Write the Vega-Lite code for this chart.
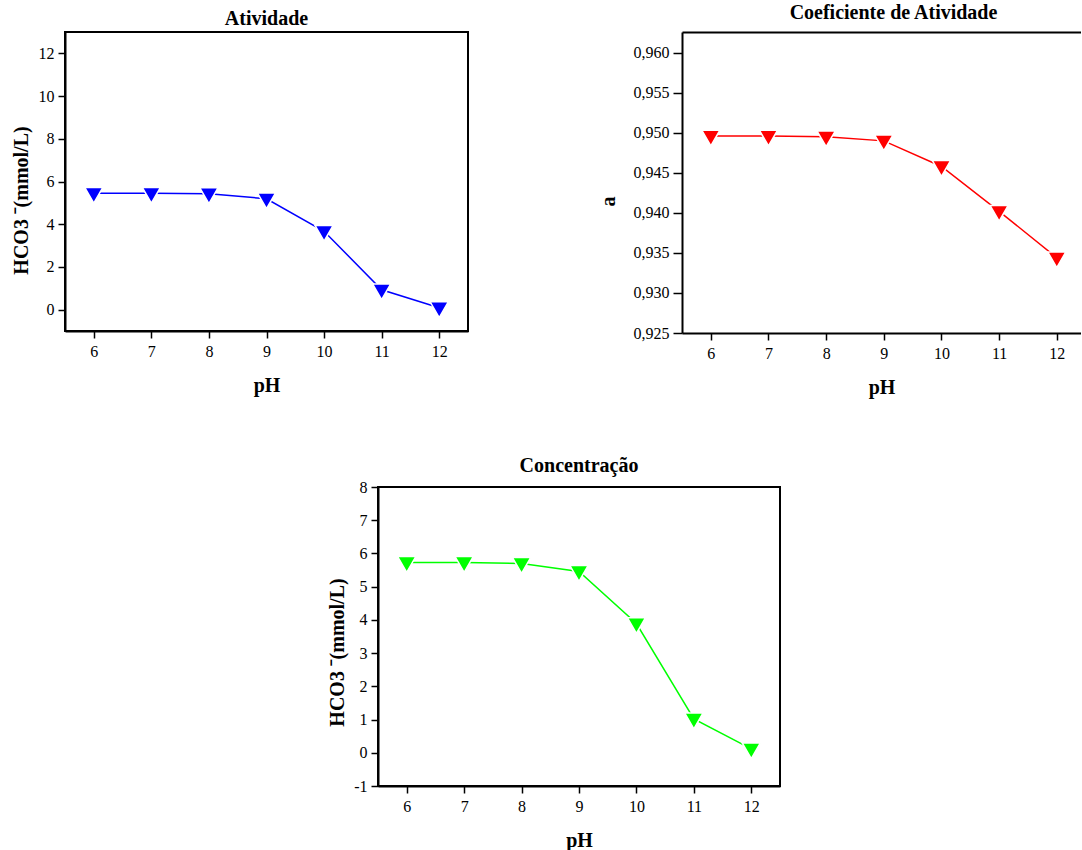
{
  "$schema": "https://vega.github.io/schema/vega-lite/v6.json",
  "padding": {"left": 10, "top": 3, "right": 0, "bottom": 0},
  "background": "white",
  "datasets": {
    "d": [
      {"pH": 6, "atividade": 5.45, "coef": 0.9496, "conc": 5.73},
      {"pH": 7, "atividade": 5.45, "coef": 0.9496, "conc": 5.73},
      {"pH": 8, "atividade": 5.43, "coef": 0.9495, "conc": 5.70},
      {"pH": 9, "atividade": 5.19, "coef": 0.9490, "conc": 5.46},
      {"pH": 10, "atividade": 3.67, "coef": 0.9458, "conc": 3.89},
      {"pH": 11, "atividade": 0.93, "coef": 0.9402, "conc": 1.02},
      {"pH": 12, "atividade": 0.09, "coef": 0.9344, "conc": 0.12}
    ]
  },
  "config": {
    "font": "Liberation Serif",
    "view": {"stroke": "black", "strokeWidth": 2},
    "axis": {
      "grid": false,
      "domainColor": "black",
      "domainWidth": 2,
      "tickColor": "black",
      "tickWidth": 1.5,
      "tickSize": 7,
      "labelFont": "Liberation Serif",
      "labelFontSize": 16,
      "labelColor": "black",
      "labelPadding": 4,
      "titleFont": "Liberation Serif",
      "titleFontSize": 20,
      "titleFontWeight": "bold",
      "titleColor": "black"
    },
    "axisX": {"titlePadding": 16, "labelPadding": 5},
    "axisY": {"titlePadding": 6},
    "title": {"font": "Liberation Serif", "fontSize": 20, "fontWeight": "bold", "color": "black", "anchor": "middle"}
  },
  "spacing": 455,
  "bounds": "flush",
  "vconcat": [
    {
      "spacing": 214,
      "bounds": "flush",
      "hconcat": [
        {
          "width": 403,
          "height": 299,
          "title": {"text": "Atividade", "offset": 3},
          "data": {"name": "d"},
          "encoding": {
            "x": {"field": "pH", "type": "quantitative", "scale": {"domain": [5.5, 12.5], "nice": false, "zero": false}, "axis": {"values": [6, 7, 8, 9, 10, 11, 12], "title": "pH"}},
            "y": {"field": "atividade", "type": "quantitative", "scale": {"domain": [-1, 13], "nice": false, "zero": false}, "axis": {"values": [0, 2, 4, 6, 8, 10, 12], "title": "HCO3  ˉ(mmol/L)", "titlePadding": 7, "titleY": 168}}
          },
          "layer": [
            {"mark": {"type": "line", "color": "#0000ff", "strokeWidth": 1.5}},
            {"mark": {"type": "point", "shape": "triangle-down", "filled": true, "fill": "#0000ff", "stroke": "white", "strokeWidth": 1.5, "size": 330, "yOffset": 2, "opacity": 1, "fillOpacity": 1}}
          ]
        },
        {
          "width": 399,
          "height": 301,
          "view": {"stroke": null},
          "title": {"text": "Coeficiente de Atividade", "offset": 9, "dx": 12},
          "data": {"name": "d"},
          "encoding": {
            "x": {"field": "pH", "type": "quantitative", "scale": {"domain": [5.5, 12.42], "nice": false, "zero": false}, "axis": {"values": [6, 7, 8, 9, 10, 11, 12], "title": "pH"}},
            "y": {"field": "coef", "type": "quantitative", "scale": {"domain": [0.925, 0.9626], "nice": false, "zero": false}, "axis": {"values": [0.925, 0.93, 0.935, 0.94, 0.945, 0.95, 0.955, 0.96], "labelExpr": "replace(format(datum.value, '.3f'), '.', ',')", "title": "a", "tickSize": 9, "titlePadding": 15, "titleY": 169}}
          },
          "resolve": {"axis": {"x": "independent"}},
          "layer": [
            {"mark": {"type": "line", "color": "#ff0000", "strokeWidth": 1.5}},
            {"mark": {"type": "point", "shape": "triangle-down", "filled": true, "fill": "#ff0000", "stroke": "white", "strokeWidth": 1.5, "size": 330, "yOffset": 2, "opacity": 1, "fillOpacity": 1},
             "encoding": {"x": {"field": "pH", "type": "quantitative", "axis": {"orient": "top", "labels": false, "ticks": false, "title": null, "domain": true}}}}
          ]
        }
      ]
    },
    {
      "spacing": 0,
      "bounds": "flush",
      "hconcat": [
        {
          "width": 313,
          "height": 10,
          "view": {"stroke": null},
          "data": {"values": [{}]},
          "mark": {"type": "point", "opacity": 0},
          "encoding": {}
        },
        {
          "width": 402,
          "height": 299,
          "title": {"text": "Concentração", "offset": 3},
          "data": {"name": "d"},
          "encoding": {
            "x": {"field": "pH", "type": "quantitative", "scale": {"domain": [5.5, 12.5], "nice": false, "zero": false}, "axis": {"values": [6, 7, 8, 9, 10, 11, 12], "title": "pH"}},
            "y": {"field": "conc", "type": "quantitative", "scale": {"domain": [-1, 8], "nice": false, "zero": false}, "axis": {"values": [-1, 0, 1, 2, 3, 4, 5, 6, 7, 8], "labelExpr": "datum.value < 0 ? '-' + abs(datum.value) : '' + datum.value", "title": "HCO3  ˉ(mmol/L)", "titleY": 165}}
          },
          "layer": [
            {"mark": {"type": "line", "color": "#00ff00", "strokeWidth": 1.5}},
            {"mark": {"type": "point", "shape": "triangle-down", "filled": true, "fill": "#00ff00", "stroke": "white", "strokeWidth": 1.5, "size": 330, "yOffset": 2, "opacity": 1, "fillOpacity": 1}}
          ]
        }
      ]
    }
  ]
}
